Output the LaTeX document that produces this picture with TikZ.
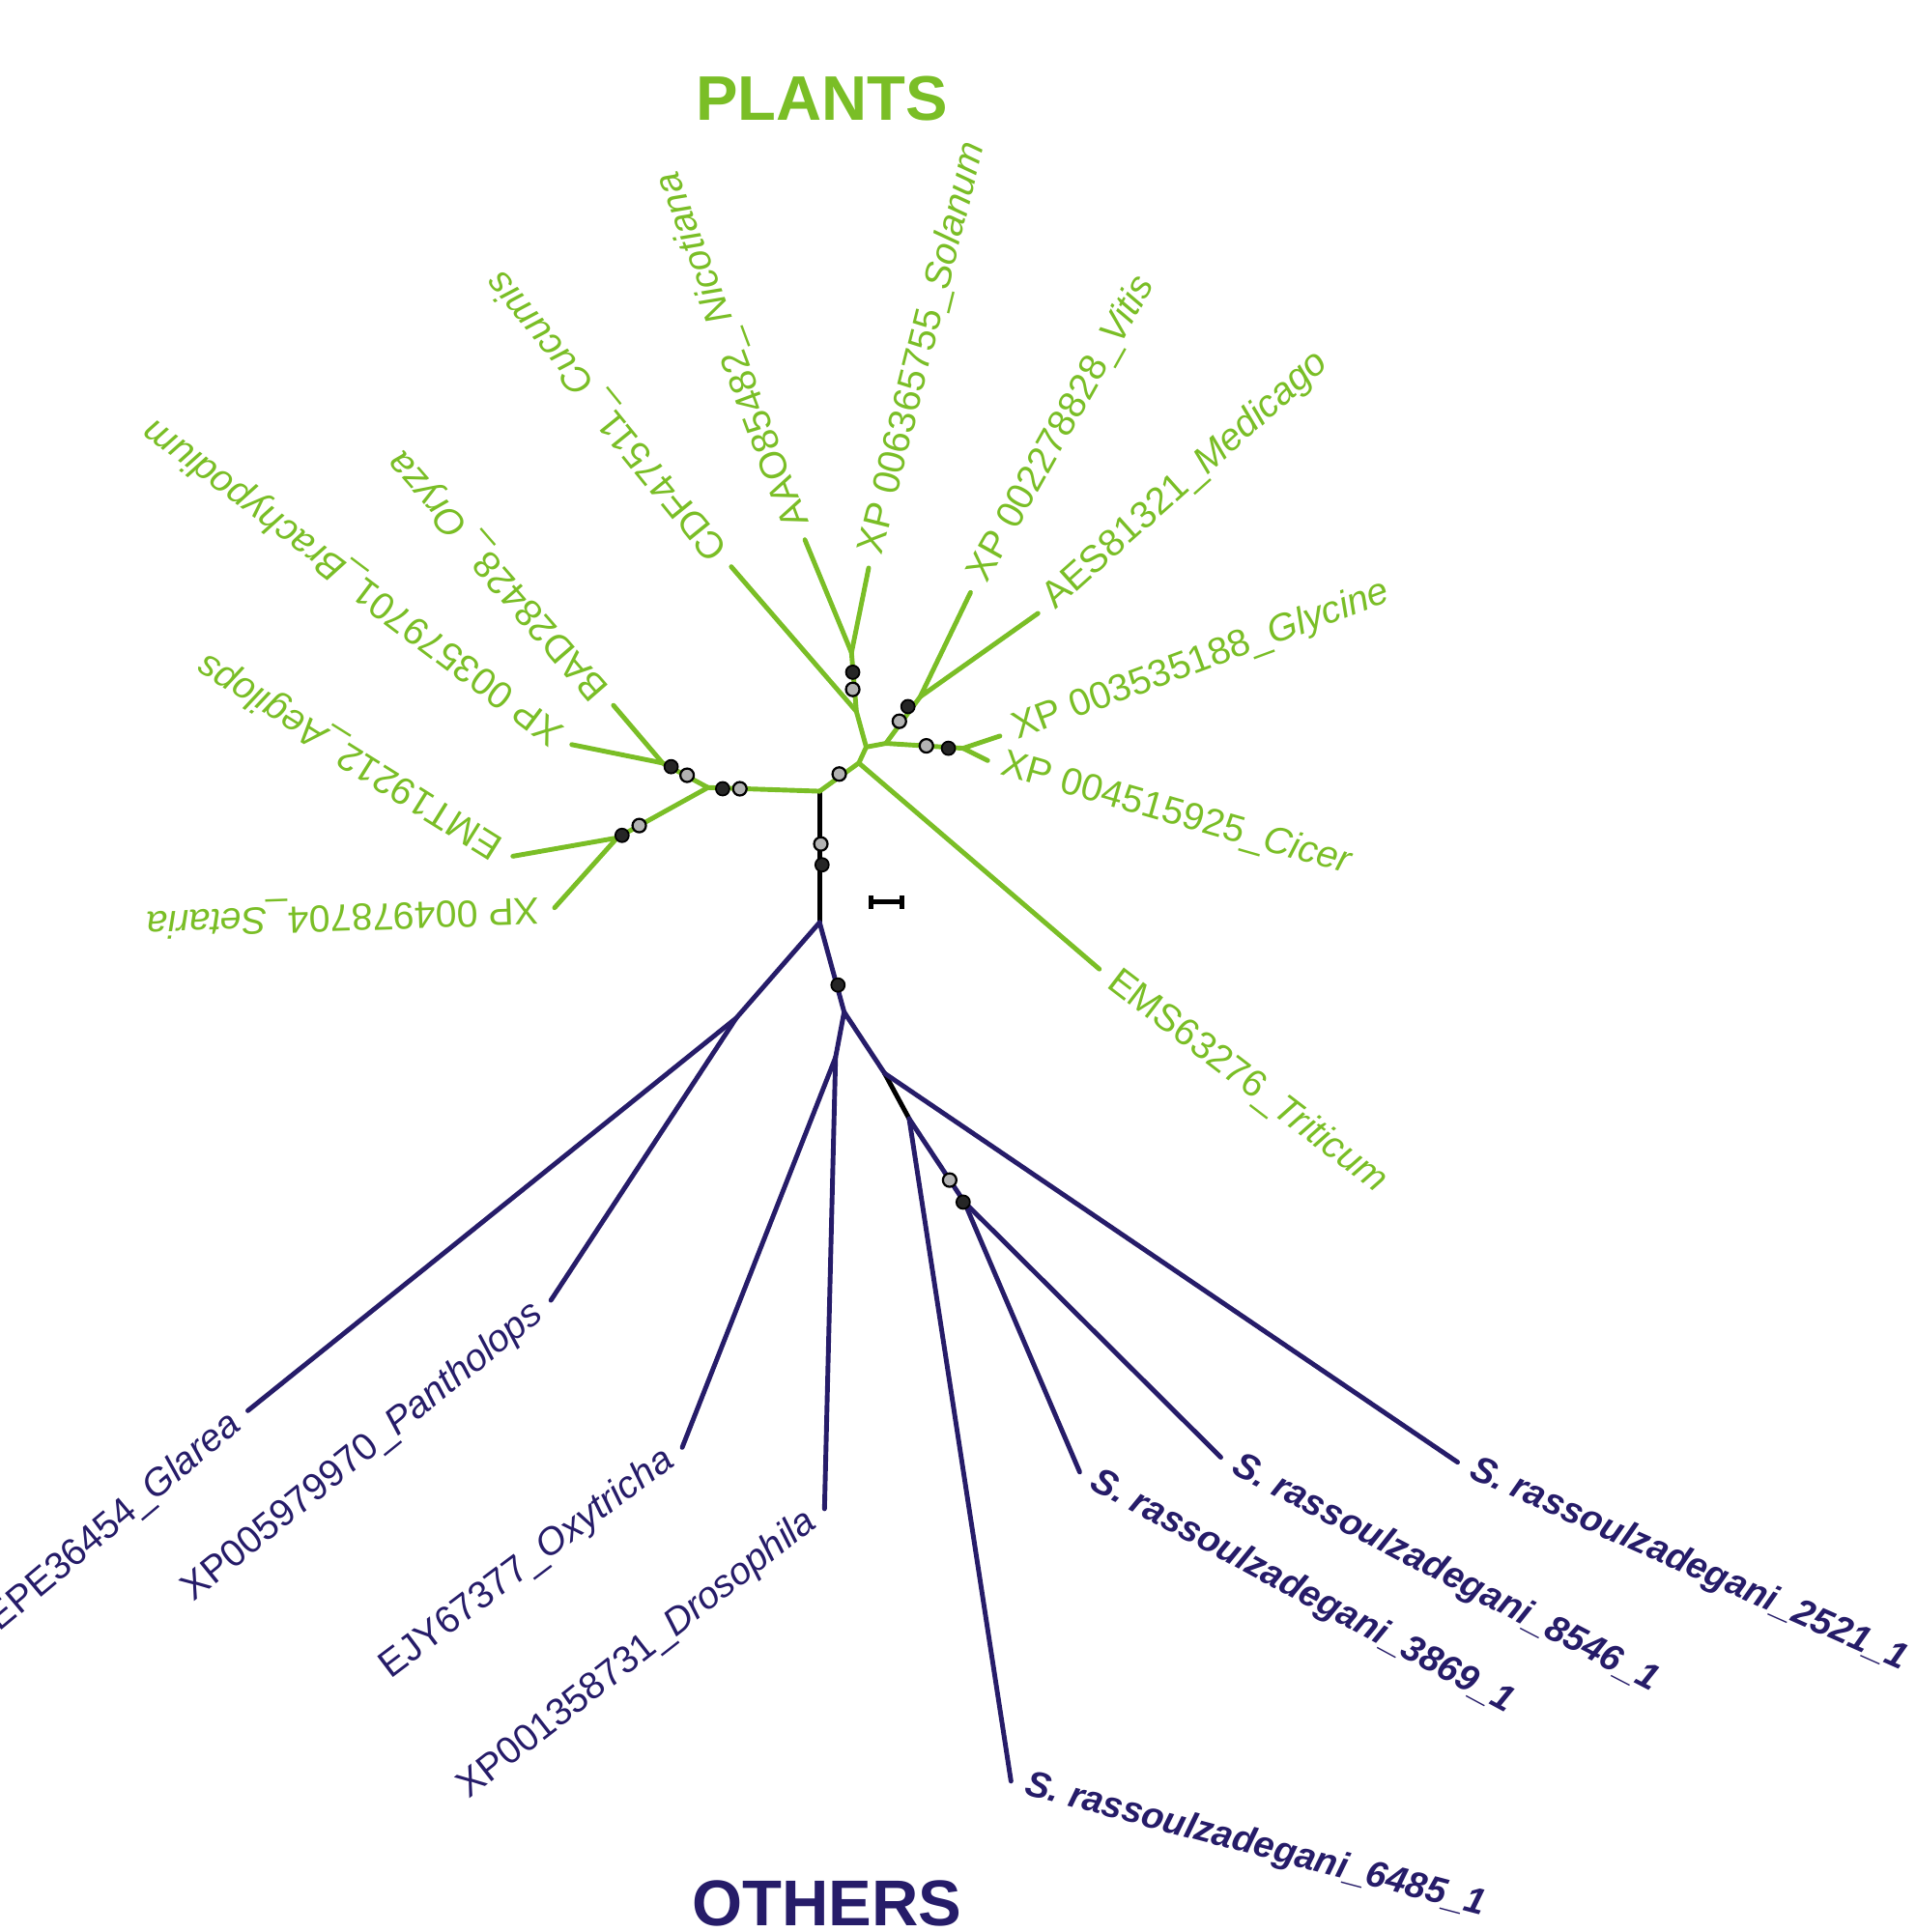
\documentclass[tikz,border=0pt]{standalone}
\usepackage{fontspec}
\setmainfont{Liberation Sans}
\definecolor{pg}{RGB}{122,190,38}
\definecolor{nv}{RGB}{38,28,105}
\begin{document}
\begin{tikzpicture}[x=0.01cm,y=-0.01cm,
 br/.style={line width=1.1pt,line cap=round},
 gb/.style={br,pg}, bb/.style={br,nv}, kb/.style={br,black},
 lab/.style={font=\fontsize{8.8}{10}\selectfont,inner sep=3pt},
 gl/.style={lab,pg}, bl/.style={lab,nv},
 outlab/.style={pos=1,anchor=west,rotate=#1},
 inlab/.style={pos=0,anchor=east,rotate=#1},
 sr/.style={outlab=#1,bl,font=\bfseries\itshape\fontsize{8.5}{10}\selectfont},
 bd/.style={circle,fill=black!85,draw=black,inner sep=0pt,minimum size=0.11cm},
 gd/.style={circle,fill=black!30,draw=black,line width=0.5pt,inner sep=0pt,minimum size=0.11cm}]
\useasboundingbox (0,0) rectangle (1561,1575);
\coordinate (R) at (668,645); \coordinate (Rb) at (668,752);
\coordinate (L) at (577,642); \coordinate (L1) at (540,622); \coordinate (L2) at (503,683);
\coordinate (A) at (700,622); \coordinate (B) at (706,609); \coordinate (C) at (698,580);
\coordinate (D) at (694,532); \coordinate (E) at (722,606); \coordinate (F) at (750,568);
\coordinate (G) at (785,610);
\coordinate (H) at (600,830); \coordinate (I) at (688,825); \coordinate (J) at (681,862);
\coordinate (K) at (721,875); \coordinate (Lk) at (741,912); \coordinate (M) at (786,980);
\coordinate (oryza) at (500,575); \coordinate (brachy) at (466,607);
\coordinate (aeg) at (418,698); \coordinate (set) at (452,740);
\coordinate (cuc) at (596,462); \coordinate (nic) at (656,440); \coordinate (sol) at (708,463);
\coordinate (vit) at (791,483); \coordinate (med) at (846,500);
\coordinate (gly) at (815,600); \coordinate (cic) at (805,620); \coordinate (tri) at (896,790);
\coordinate (gla) at (202,1150); \coordinate (pan) at (449,1060);
\coordinate (oxy) at (556,1180); \coordinate (dro) at (672,1230);
\coordinate (s2521) at (1188,1192); \coordinate (s6485) at (824,1452);
\coordinate (s3869) at (880,1200); \coordinate (s8546) at (995,1188);
\node[pg,font=\bfseries\fontsize{14.6}{16}\selectfont] (plants) at (670,80) {PLANTS};
\node[nv,font=\bfseries\fontsize{15}{17}\selectfont] (others) at (674,1552) {OTHERS};
\draw[kb] (R) -- (Rb);
\draw[gb] (R) -- (L);
\draw[gb] (L) -- (L1); \draw[gb] (L) -- (L2);
\draw[gb] (L1) -- (oryza) node[outlab=131,gl] {BAD28428\_ \textit{Oryza}};
\draw[gb] (L1) -- (brachy) node[outlab=143,gl] {XP 003579701\_\textit{Brachypodium}};
\draw[gb] (L2) -- (aeg) node[outlab=148,gl] {EMT19212\_\textit{Aegilops}};
\draw[gb] (L2) -- (set) node[outlab=182,gl] {XP 004978704\_\textit{Setaria}};
\draw[gb] (R) -- (A) -- (B) -- (C) -- (D);
\draw[gb] (A) -- (tri) node[outlab=-37.4,gl] {EMS63276\_\textit{Triticum}};
\draw[gb] (C) -- (cuc) node[outlab=129,gl] {CDF47511\_ \textit{Cucumis}};
\draw[gb] (D) -- (nic) node[outlab=110.5,gl] {AAO85482\_ \textit{Nicotiana}};
\draw[gb] (D) -- (sol) node[outlab=76,gl] {XP 006365755\_\textit{Solanum}};
\draw[gb] (B) -- (E) -- (F); \draw[gb] (E) -- (G);
\draw[gb] (F) -- (vit) node[outlab=60.7,gl] {XP 002278828\_\textit{Vitis}};
\draw[gb] (F) -- (med) node[outlab=41.8,gl] {AES81321\_\textit{Medicago}};
\draw[gb] (G) -- (gly) node[outlab=20.4,gl] {XP 003535188\_\textit{Glycine}};
\draw[gb] (G) -- (cic) node[outlab=-16,gl] {XP 004515925\_\textit{Cicer}};
\draw[bb] (Rb) -- (H); \draw[bb] (Rb) -- (I) -- (J); \draw[bb] (I) -- (K);
\draw[kb] (K) -- (Lk); \draw[bb] (Lk) -- (M);
\draw[bb] (gla) -- (H) node[inlab=40,bl] {EPE36454\_\textit{Glarea}};
\draw[bb] (pan) -- (H) node[inlab=39,bl] {XP005979970\_\textit{Pantholops}};
\draw[bb] (oxy) -- (J) node[inlab=37,bl] {EJY67377\_\textit{Oxytricha}};
\draw[bb] (dro) -- (J) node[inlab=38,bl] {XP001358731\_\textit{Drosophila}};
\draw[bb] (K) -- (s2521) node[sr=-24] {S. rassoulzadegani\_2521\_1};
\draw[bb] (Lk) -- (s6485) node[sr=-14.8] {S. rassoulzadegani\_6485\_1};
\draw[bb] (M) -- (s3869) node[sr=-28.4] {S. rassoulzadegani\_3869\_1};
\draw[bb] (M) -- (s8546) node[sr=-27.5] {S. rassoulzadegani\_8546\_1};
\node[gd] (d1) at (669,688) {}; \node[bd] (d2) at (670,705) {};
\node[bd] (d3) at (589,643) {}; \node[gd] (d4) at (603,643) {};
\node[bd] (d5) at (547,625) {}; \node[gd] (d6) at (560,632) {};
\node[bd] (d7) at (507,681) {}; \node[gd] (d8) at (521,673) {};
\node[gd] (d9) at (684,631) {};
\node[bd] (d10) at (695,548) {}; \node[gd] (d11) at (695,562) {};
\node[gd] (d12) at (733,588) {}; \node[bd] (d13) at (740,576) {};
\node[gd] (d14) at (755,608) {}; \node[bd] (d15) at (773,610) {};
\node[bd] (d16) at (683,803) {};
\node[gd] (d17) at (774,962) {}; \node[bd] (d18) at (785,980) {};
\draw[line width=1.2pt] (710,735) -- (735,735);
\draw[line width=1.2pt] (710,730) -- (710,741);
\draw[line width=1.2pt] (735,730) -- (735,741);
\end{tikzpicture}
\end{document}
